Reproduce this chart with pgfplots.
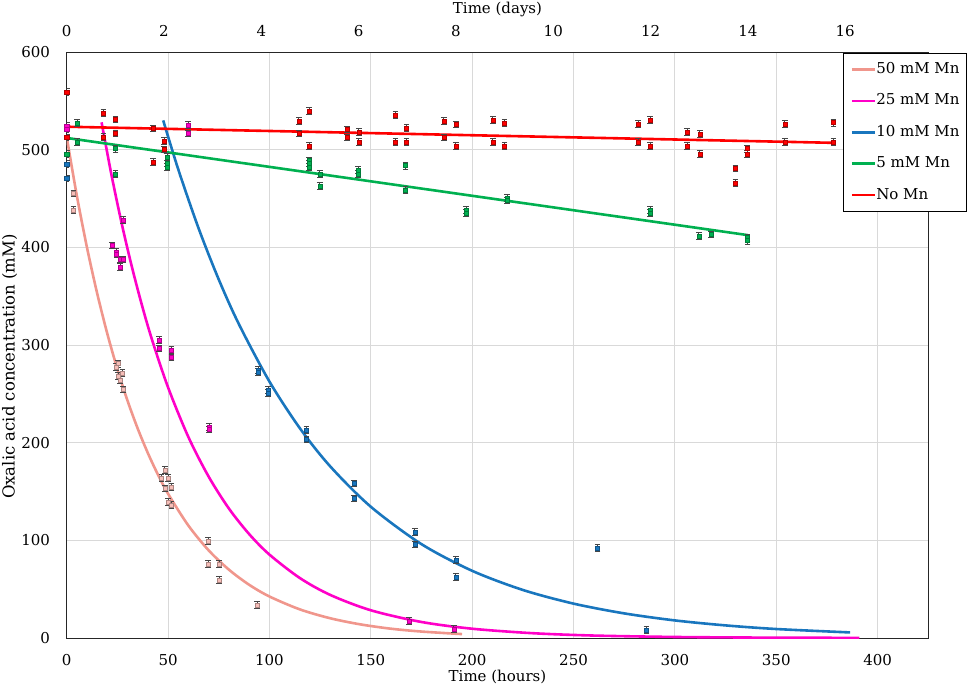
\documentclass[border=0pt]{standalone}
\usepackage{pgfplots}
\pgfplotsset{compat=1.18}
\usepackage{fontspec}
\setmainfont{DejaVu Serif}
\definecolor{cFifty}{RGB}{240,150,140}
\definecolor{cFiftyPt}{RGB}{246,190,184}
\definecolor{cTwentyFive}{RGB}{255,0,200}
\definecolor{cTen}{RGB}{25,118,190}
\definecolor{cFive}{RGB}{0,176,80}
\definecolor{cNo}{RGB}{255,0,0}
\definecolor{cGrid}{RGB}{217,217,217}
\definecolor{cErr}{RGB}{70,70,70}
\newcommand\fnt{\fontsize{15bp}{18bp}\selectfont}
\pgfplotsset{
  pts/.style={only marks, mark=square*, mark size=2bp,
    mark options={fill=#1, draw=#1!70!black, line width=0.4bp}, forget plot,
    error bars/y dir=both, error bars/y fixed=3.5,
    error bars/error bar style={cErr, line width=0.7bp},
    error bars/error mark options={cErr, rotate=90, mark size=2.8bp, line width=0.8bp}},
  crv/.style={color=#1, line width=2.6bp, smooth},
}
\begin{document}
\begin{tikzpicture}
\path[use as bounding box] (-66.7bp,-52bp) rectangle (902.3bp,638bp);
\begin{axis}[
  at={(0,0)}, anchor=south west, scale only axis,
  width=861.6bp, height=586bp,
  xmin=0, xmax=425, ymin=0, ymax=600,
  xtick={0,50,...,400}, ytick={0,100,...,600},
  grid=major, major grid style={cGrid, line width=0.8bp},
  axis line style={black!85, line width=1bp},
  tick style={draw=none}, major tick length=0pt,
  /pgf/number format/assume math mode=true,
  xticklabel style={font=\fnt, anchor=center, inner sep=0pt, yshift=-22bp},
  yticklabel style={font=\fnt, anchor=east, inner sep=0pt, xshift=-16.5bp},
  xlabel={Time (hours)}, ylabel={Oxalic acid concentration (mM)},
  xlabel style={font=\fnt, at={(axis description cs:0.5,-0.0666)}, anchor=center, inner sep=0pt},
  ylabel style={font=\fontsize{16.5bp}{19bp}\selectfont, at={(axis description cs:-0.0662,0.4633)}, anchor=center, inner sep=0pt},
  legend style={at={(1.0446,0.9978)}, anchor=north east, draw=black, line width=0.8bp,
    fill=white, inner xsep=6.85bp, inner ysep=8.9bp, row sep=17.4bp, font=\fnt,
    cells={anchor=west}, nodes={inner sep=0pt, text height=11bp, text depth=3bp},
    /tikz/every even column/.append style={column sep=2bp}},
  legend image code/.code={\draw[#1] (0bp,0bp) -- (23bp,0bp);},
]
\addplot[crv=cFifty] coordinates {(0,513)(5,452.9)(10,399.9)(15,353.1)(20,311.8)(25,275.3)(30,243.0)(35,214.6)(40,189.5)(45,167.3)(50,147.7)(60,115.2)(70,89.8)(80,70.0)(90,54.5)(100,42.5)(115,29.3)(130,20.2)(145,13.9)(160,9.5)(175,6.6)(195,4.0)};
\addlegendentry{50 mM Mn}
\addplot[crv=cTwentyFive] coordinates {(17.2,528)(22,475.1)(27,425.6)(32,381.3)(37,341.6)(42,306.0)(50,256.6)(60,205.9)(70,165.3)(80,132.6)(90,106.4)(100,85.4)(115,61.4)(130,44.1)(150,28.4)(175,16.4)(200,9.5)(230,4.9)(260,2.5)(300,1.05)(340,0.44)(391,0.14)};
\addlegendentry{25 mM Mn}
\addplot[crv=cTen] coordinates {(47.6,530)(55,480.0)(65,419.8)(75,367.1)(85,321.1)(100,262.6)(115,214.8)(130,175.7)(150,134.4)(175,96.1)(200,68.8)(225,49.2)(250,35.2)(275,25.2)(300,18.0)(325,12.9)(350,9.2)(386.4,5.7)};
\addlegendentry{10 mM Mn}
\addplot[crv=cFive] coordinates {(0,512)(336,412.5)};
\addlegendentry{5 mM Mn}
\addplot[crv=cNo] coordinates {(0,523.5)(378.2,507)};
\addlegendentry{No Mn}

\addplot[pts=cFiftyPt] coordinates {(3.3,455.2)(3.3,438.1)(24.3,277.7)(25.4,281)(25.4,268)(26.3,264)(27.6,271.6)(27.9,254.6)(46.8,163.5)(48.4,172)(48.4,153.2)(50.1,163.5)(50.1,139.5)(51.7,154.9)(51.7,136.1)(69.8,99.6)(69.8,75.7)(75.2,75.7)(75.2,59.4)(93.9,33.8)};
\addplot[pts=cTwentyFive] coordinates {(0,524.3)(0,520.9)(22.2,402)(24.6,395)(24.6,393)(26.3,380)(26.3,387.6)(27.9,387.6)(27.9,427.8)(45.6,305)(45.6,296.5)(51.7,294.8)(51.7,287.3)(59.9,525)(59.9,516.6)(70.3,216.3)(70.3,213.6)(168.9,17.7)(190.9,8.9)};
\addplot[pts=cTen] coordinates {(0,485)(0,470.5)(94.4,274.3)(94.4,272.6)(99.4,253.8)(99.4,251)(118.3,212.9)(118.3,203.4)(141.7,158.3)(141.7,143)(171.7,108.8)(171.7,95.9)(191.9,79.8)(191.9,62.7)(261.9,92.1)(286,8.2)};
\addplot[pts=cFive] coordinates {(0,495.4)(5.2,527.4)(5.2,508)(24.1,501.2)(24.1,475)(49.6,492.6)(49.6,485.9)(49.6,482.5)(119.6,489)(119.6,486)(119.6,482.5)(124.8,475)(124.8,462.6)(143.7,479)(143.7,475)(167.2,483.8)(167.2,458.5)(197.1,438)(197.1,435)(217.3,450.7)(217.3,448)(287.8,438)(287.8,435)(311.8,411.8)(317.9,413.2)(335.9,410)(335.9,407)};
\addplot[pts=cNo] coordinates {(0,559)(0,512.5)(18.1,537.7)(18.1,513)(24.1,531)(24.1,516.6)(42.7,521.7)(42.7,487.5)(48,508.7)(48,500.2)(114.5,529.2)(114.5,516.6)(119.6,539.4)(119.6,503.9)(138.3,520.7)(138.3,512.5)(144.1,518.3)(144.1,508)(162.1,535.3)(162.1,508)(167.7,522.4)(167.7,508)(186,529.2)(186,512.5)(191.9,525.8)(191.9,503.6)(210.2,530.2)(210.2,508)(216,527.4)(216,503.6)(281.9,526.1)(281.9,508)(287.8,530.2)(287.8,503.6)(305.9,518.3)(305.9,503.6)(312.3,515.9)(312.3,495.4)(329.9,480.8)(329.9,466)(335.6,501.2)(335.6,495.4)(354.2,526.1)(354.2,508)(378.2,527.8)(378.2,508)};
\end{axis}
\begin{axis}[
  at={(0,0)}, anchor=south west, scale only axis,
  width=861.6bp, height=586bp,
  xmin=0, xmax=17.7083, ymin=0, ymax=1,
  axis x line*=top, hide y axis, axis line style={draw=none},
  xtick={0,2,...,16}, tick style={draw=none}, major tick length=0pt,
  /pgf/number format/assume math mode=true,
  xticklabel style={font=\fnt, anchor=center, inner sep=0pt, yshift=21bp},
  xlabel={Time (days)},
  xlabel style={font=\fnt, at={(axis description cs:0.5,1.0734)}, anchor=center, inner sep=0pt},
]
\addplot[draw=none] coordinates {(0,0)};
\end{axis}
\end{tikzpicture}
\end{document}
